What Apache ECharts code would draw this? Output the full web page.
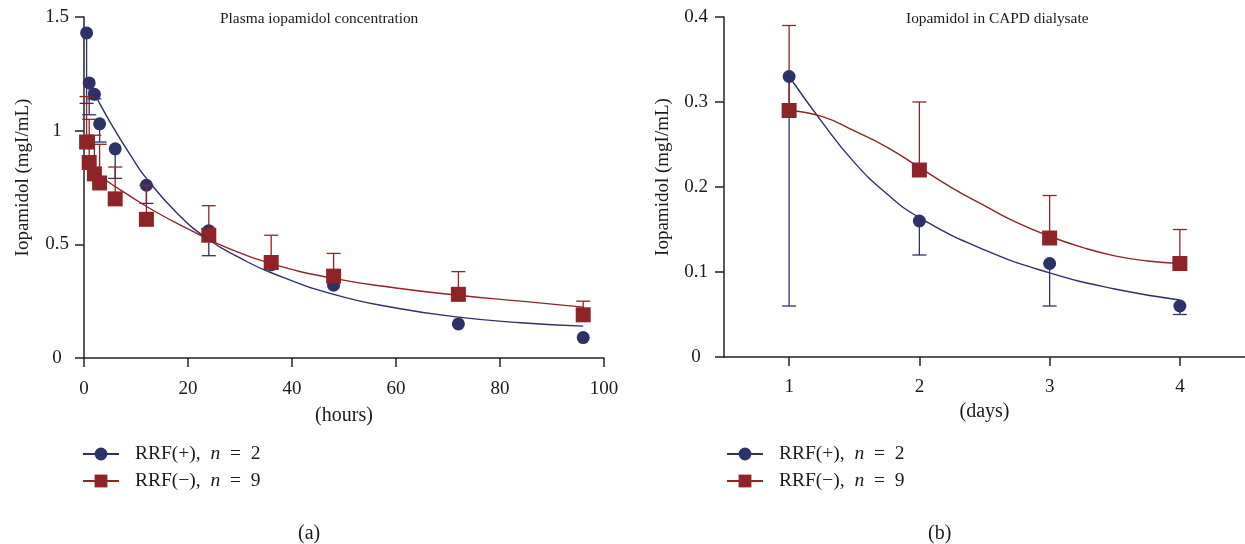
<!DOCTYPE html>
<html>
<head>
<meta charset="utf-8">
<script src="https://cdn.jsdelivr.net/npm/echarts@6/dist/echarts.min.js"></script>
<style>
html,body{margin:0;padding:0;background:#fff;}
#chart{width:1245px;height:544px;}
</style>
</head>
<body>
<div id="chart"></div>
<script>
// ---- Data ----
const nameP = 'RRF(+), n = 2';
const nameN = 'RRF(\u2212), n = 9';

// (a) Plasma iopamidol concentration (mgI/mL) vs hours
const hours = [0.5, 1, 2, 3, 6, 12, 24, 36, 48, 72, 96];
const plasmaPos = [1.43, 1.21, 1.16, 1.03, 0.92, 0.76, 0.56, 0.41, 0.32, 0.15, 0.09];
const plasmaPosLower = [1.12, 1.07, 1.14, 0.95, 0.79, 0.68, 0.45, null, null, null, null];
const plasmaNeg = [0.95, 0.86, 0.81, 0.77, 0.70, 0.61, 0.54, 0.42, 0.36, 0.28, 0.19];
const plasmaNegUpper = [1.15, 1.05, 0.98, 0.94, 0.84, 0.76, 0.67, 0.54, 0.46, 0.38, 0.25];
const fitHoursPos = [1, 2, 3, 6, 9, 12, 18, 24, 30, 36, 48, 60, 72, 84, 96];
const fitPlasmaPos = [1.22, 1.17, 1.12, 1.0, 0.89, 0.79, 0.635, 0.52, 0.44, 0.375, 0.28, 0.22, 0.18, 0.155, 0.14];
const fitHoursNeg = [1, 4, 9, 14, 20, 27, 36, 48, 60, 72, 84, 96];
const fitPlasmaNeg = [0.84, 0.785, 0.71, 0.64, 0.568, 0.49, 0.415, 0.35, 0.308, 0.276, 0.25, 0.224];

// (b) Iopamidol in CAPD dialysate vs days
const days = [1, 2, 3, 4];
const dialPos = [0.33, 0.16, 0.11, 0.06];
const dialPosLower = [0.06, 0.12, 0.06, 0.05];
const dialNeg = [0.29, 0.22, 0.14, 0.11];
const dialNegUpper = [0.39, 0.30, 0.19, 0.15];
const fitDaysPos = [1, 1.25, 1.5, 1.75, 2, 2.5, 3, 3.5, 4];
const fitDialPos = [0.33, 0.277, 0.229, 0.192, 0.164, 0.126, 0.099, 0.080, 0.067];
const fitDaysNeg = [1, 1.25, 1.5, 1.75, 2, 2.25, 2.5, 2.75, 3, 3.25, 3.5, 3.75, 4];
const fitDialNeg = [0.29, 0.283, 0.266, 0.247, 0.223, 0.199, 0.178, 0.158, 0.142, 0.129, 0.119, 0.113, 0.110];

const dayTicks = [1, 2, 3, 4];

// ---- Styles ----
const BLUE = '#2c3168';
const RED = '#8e2427';
const FONT = '"Liberation Serif", "DejaVu Serif", serif';
const TXT = '#1a1a1a';

function zip(xs, ys) { return xs.map((x, i) => [x, ys[i]]); }
function zip3(xs, ys, bs) {
  return xs.map((x, i) => [x, ys[i], bs[i]]).filter(d => d[2] !== null);
}
function errSeries(data, color, xi, z) {
  return {
    type: 'custom', xAxisIndex: xi, yAxisIndex: xi, z: z, silent: true,
    data: data,
    renderItem: function (params, api) {
      const p0 = api.coord([api.value(0), api.value(1)]);
      const p1 = api.coord([api.value(0), api.value(2)]);
      const st = { stroke: color, lineWidth: 1.3 };
      return {
        type: 'group', children: [
          { type: 'line', shape: { x1: p0[0], y1: p0[1], x2: p1[0], y2: p1[1] }, style: st },
          { type: 'line', shape: { x1: p1[0] - 7, y1: p1[1], x2: p1[0] + 7, y2: p1[1] }, style: st }
        ]
      };
    }
  };
}
function pts(data, color, symbol, size, xi, z) {
  return {
    type: 'scatter', xAxisIndex: xi, yAxisIndex: xi, z: z, silent: true,
    symbol: symbol, symbolSize: size, data: data,
    itemStyle: { color: color, opacity: 1 }
  };
}
function curve(name, data, color, symbol, xi) {
  return {
    name: name, type: 'line', xAxisIndex: xi, yAxisIndex: xi, z: 10, silent: true,
    data: data, smooth: 0.5, showSymbol: false, symbol: symbol,
    lineStyle: { color: color, width: 1.4 }, itemStyle: { color: color }
  };
}
function axisBase() {
  return {
    axisLine: { show: true, onZero: false, lineStyle: { color: '#222', width: 1.5 } },
    axisTick: { show: true, inside: false, length: 9, lineStyle: { color: '#222', width: 1.5 } },
    splitLine: { show: false },
    axisLabel: { color: TXT, fontFamily: FONT, fontSize: 19 },
    nameTextStyle: { color: TXT, fontFamily: FONT, fontSize: 20 }
  };
}
const legendRich = {
  t: { fontFamily: FONT, fontSize: 19.5, color: TXT },
  i: { fontFamily: FONT, fontSize: 19.5, color: TXT, fontStyle: 'italic' }
};
function legendFmt(name) {
  if (name === nameP) return '{t|RRF(+),  }{i|n}{t|  =  2}';
  return '{t|RRF(\u2212),  }{i|n}{t|  =  9}';
}
function legendAt(left) {
  return {
    data: [nameP, nameN], orient: 'vertical', left: left, top: 444, padding: 0,
    itemWidth: 36, itemHeight: 16, itemGap: 7, selectedMode: false,
    formatter: legendFmt,
    textStyle: { fontFamily: FONT, fontSize: 19.5, color: TXT, padding: [0, 0, 0, 11], rich: legendRich }
  };
}

const x0 = Object.assign(axisBase(), {
  type: 'value', gridIndex: 0, min: 0, max: 100, interval: 20,
  name: '(hours)', nameLocation: 'middle', nameGap: 48
});
x0.axisLabel.margin = 22;
const y0 = Object.assign(axisBase(), {
  type: 'value', gridIndex: 0, min: 0, max: 1.5, interval: 0.5,
  name: 'Iopamidol (mgI/mL)', nameLocation: 'middle', nameGap: 51
});
y0.axisLabel.margin = 27; y0.axisLabel.align = 'center';
y0.nameTextStyle.fontSize = 19; y0.nameTextStyle.padding = [0, 0, 0, 20];

const x1 = Object.assign(axisBase(), {
  type: 'value', gridIndex: 1, min: 0.5, max: 4.5,
  name: '(days)', nameLocation: 'middle', nameGap: 45
});
x1.axisTick.customValues = dayTicks;
x1.axisLabel.customValues = dayTicks;
x1.axisLabel.margin = 21;
const y1 = Object.assign(axisBase(), {
  type: 'value', gridIndex: 1, min: 0, max: 0.4, interval: 0.1,
  name: 'Iopamidol (mgI/mL)', nameLocation: 'middle', nameGap: 51
});
y1.axisLabel.margin = 28; y1.axisLabel.align = 'center';
y1.nameTextStyle.fontSize = 19; y1.nameTextStyle.padding = [0, 0, 0, 20];

const titleStyle = { fontFamily: FONT, fontSize: 15.4, fontWeight: 'normal', color: TXT };
const capStyle = { fontFamily: FONT, fontSize: 20, fontWeight: 'normal', color: TXT };

const option = {
  animation: false,
  backgroundColor: '#ffffff',
  title: [
    { text: 'Plasma iopamidol concentration', left: 220, top: 11, padding: 0, textStyle: titleStyle },
    { text: 'Iopamidol in CAPD dialysate', left: 906, top: 11, padding: 0, textStyle: titleStyle },
    { text: '(a)', left: 298, top: 524, padding: 0, textStyle: capStyle },
    { text: '(b)', left: 928, top: 524, padding: 0, textStyle: capStyle }
  ],
  legend: [legendAt(82), legendAt(726)],
  grid: [
    { left: 84, right: 641, top: 17, bottom: 186 },
    { left: 724, right: 0, top: 17, bottom: 187 }
  ],
  xAxis: [x0, x1],
  yAxis: [y0, y1],
  series: [
    curve(nameP, zip(fitHoursPos, fitPlasmaPos), BLUE, 'circle', 0),
    curve(nameN, zip(fitHoursNeg, fitPlasmaNeg), RED, 'rect', 0),
    curve(nameP, zip(fitDaysPos, fitDialPos), BLUE, 'circle', 1),
    curve(nameN, zip(fitDaysNeg, fitDialNeg), RED, 'rect', 1),
    // (a)
    errSeries(zip3(hours, plasmaPos, plasmaPosLower), BLUE, 0, 2),
    pts(zip(hours, plasmaPos), BLUE, 'circle', 13, 0, 3),
    errSeries(zip3(hours, plasmaNeg, plasmaNegUpper), RED, 0, 4),
    pts(zip(hours, plasmaNeg), RED, 'rect', 15, 0, 5),
    // (b)
    errSeries(zip3(days, dialPos, dialPosLower), BLUE, 1, 2),
    errSeries(zip3(days, dialNeg, dialNegUpper), RED, 1, 2),
    pts(zip(days, dialPos), BLUE, 'circle', 13, 1, 3),
    pts(zip(days, dialNeg), RED, 'rect', 15, 1, 5)
  ]
};

const chart = echarts.init(document.getElementById('chart'), null, { renderer: 'canvas' });
chart.setOption(option);
</script>
</body>
</html>
